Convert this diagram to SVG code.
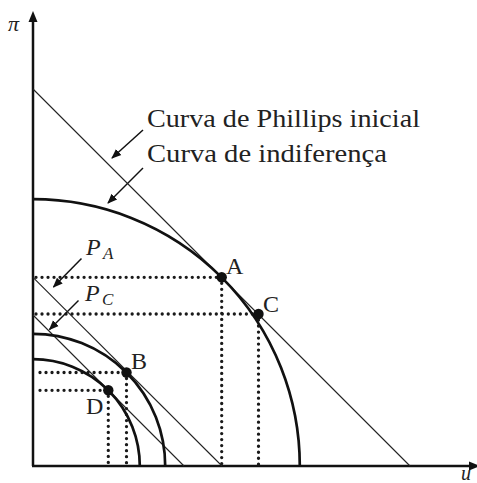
<svg xmlns="http://www.w3.org/2000/svg" width="477" height="483" viewBox="0 0 477 483">
<defs>
<marker id="ah" viewBox="0 0 10 10" refX="9" refY="5" markerWidth="10" markerHeight="10" markerUnits="userSpaceOnUse" orient="auto"><path d="M0 1 L10 5 L0 9 Z" fill="#111"/></marker>
</defs>
<style>
.axis{stroke:#111;stroke-width:2.5;fill:none}
.curve{stroke:#111;stroke-width:2.7;fill:none}
.thin{stroke:#222;stroke-width:1.1;fill:none}
.dot{stroke:#1a1a1a;stroke-width:3.3;stroke-linecap:round;stroke-dasharray:0.01 6;fill:none}
.ptr{stroke:#111;stroke-width:1.5;fill:none;marker-end:url(#ah)}
.pt{fill:#111}
text{font-family:"Liberation Serif","DejaVu Serif",serif;fill:#222}
.lbl{font-size:24px}
.it{font-style:italic}
</style>
<g id="axes">
<line class="axis" x1="33" y1="466" x2="33" y2="18"/>
<path d="M33 11 L28.5 22 L37.5 22 Z" fill="#111"/>
<line class="axis" x1="32" y1="466" x2="472" y2="466"/>
<path d="M480 466 L469 461.5 L469 470.5 Z" fill="#111"/>
<text class="it" x="8" y="31" font-size="22">π</text>
<text class="it" x="461" y="480" font-size="20">u</text>
</g>
<g id="connectors">
<line class="dot" x1="36" y1="277.3" x2="221.7" y2="277.3"/>
<line class="dot" x1="221.7" y1="277.3" x2="221.7" y2="466"/>
<line class="dot" x1="36" y1="314" x2="258.5" y2="314"/>
<line class="dot" x1="258.5" y1="314" x2="258.5" y2="466"/>
<line class="dot" x1="40" y1="372.5" x2="126.5" y2="372.5"/>
<line class="dot" x1="126.5" y1="372.5" x2="126.5" y2="466"/>
<line class="dot" x1="40" y1="390.3" x2="108.3" y2="390.3"/>
<line class="dot" x1="108.3" y1="390.3" x2="108.3" y2="466"/>
<line class="ptr" x1="143" y1="130" x2="112" y2="158"/>
<line class="ptr" x1="143" y1="168" x2="108" y2="203"/>
<line class="ptr" x1="81.5" y1="258.5" x2="53.5" y2="287"/>
<line class="ptr" x1="78.5" y1="300.5" x2="49.5" y2="329.5"/>
</g>
<g id="phillips-inicial">
<line class="thin" x1="33" y1="89" x2="410" y2="466"/>
<text x="147" y="127" font-size="25" textLength="273" lengthAdjust="spacingAndGlyphs">Curva de Phillips inicial</text>
</g>
<g id="curva-indiferenca">
<path class="curve" d="M33 199.2 A266.8 266.8 0 0 1 299.8 466"/>
<text x="147" y="162" font-size="25" textLength="240" lengthAdjust="spacingAndGlyphs">Curva de indiferença</text>
</g>
<g id="PA">
<line class="thin" x1="33" y1="277.3" x2="222" y2="466"/>
<text class="lbl it" x="86" y="255">P</text>
<text class="it" x="103" y="259" font-size="17">A</text>
</g>
<g id="PC">
<line class="thin" x1="33" y1="315" x2="184" y2="466"/>
<text class="lbl it" x="85" y="301">P</text>
<text class="it" x="102" y="305" font-size="17">C</text>
</g>
<g id="curva-B">
<path class="curve" d="M33 333.8 A132.2 132.2 0 0 1 165.2 466"/>
</g>
<g id="curva-D">
<path class="curve" d="M33 359.2 A106.8 106.8 0 0 1 139.8 466"/>
</g>
<g id="A"><circle class="pt" cx="221.7" cy="277.3" r="5.2"/><text class="lbl" x="226" y="274">A</text></g>
<g id="C"><circle class="pt" cx="258.5" cy="314" r="5.2"/><text class="lbl" x="263" y="312">C</text></g>
<g id="B"><circle class="pt" cx="126.5" cy="372.5" r="5.2"/><text class="lbl" x="131" y="369">B</text></g>
<g id="D"><circle class="pt" cx="108.3" cy="390.3" r="5.2"/><text class="lbl" x="86" y="414">D</text></g>
</svg>
